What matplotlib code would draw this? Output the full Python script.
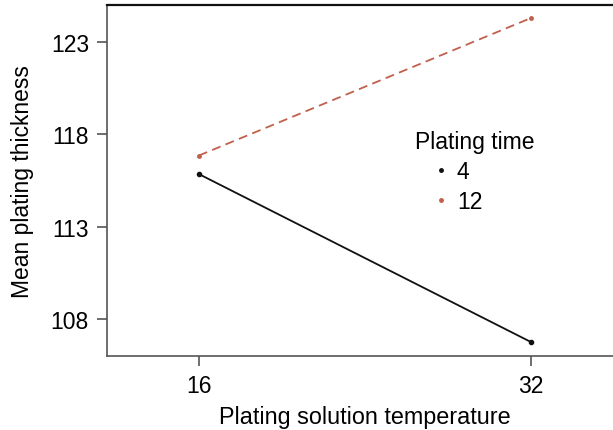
import matplotlib
matplotlib.use("Agg")
import matplotlib.pyplot as plt
from matplotlib.lines import Line2D

plt.rcParams['font.family'] = ['Liberation Sans', 'DejaVu Sans']

temperature = [16, 32]
time_labels = ["4", "12"]
thickness_4 = [115.85, 106.75]
thickness_12 = [116.85, 124.3]
yticks = [108, 113, 118, 123]
xticks = [16, 32]

W, H = 613, 431
fig = plt.figure(figsize=(W/100, H/100), dpi=100)
L, R, T, B = 107, 623, 6, 357
ax = fig.add_axes([L/W, (H-B)/H, (R-L)/W, (B-T)/H])

black = "#111111"
red = "#c0604c"
ax.plot(temperature, thickness_4, color=black, lw=1.3, marker='o', ms=3)
ax.plot(temperature, thickness_12, color=red, lw=1.3, ls=(0, (5, 3)), marker='o', ms=2.5)

ax.set_xlim(11.58, 36.42)
ax.set_ylim(106.0, 125.0)
ax.set_xticks(xticks)
ax.set_yticks(yticks)
ax.tick_params(labelsize=16.5, length=7, width=1.2, color="#555555")
ax.tick_params(axis='y', pad=6)
ax.tick_params(axis='x', pad=6)
for s in ['left', 'bottom', 'top']:
    ax.spines[s].set_color("#555555")
    ax.spines[s].set_linewidth(1.2)
ax.spines['top'].set_color("#111111")
ax.spines['top'].set_linewidth(1.6)
ax.spines['right'].set_visible(False)

ax.set_xlabel("Plating solution temperature", fontsize=16.8, labelpad=6)
ax.set_ylabel("Mean plating thickness", fontsize=16.5, labelpad=12)

aw, ah = R - L, B - T
ax.text((415-L)/aw, (B-143)/ah, "Plating time", transform=ax.transAxes,
        fontsize=16.5, ha='left', va='center')
handles = [Line2D([], [], ls='none', marker='o', ms=2.5, color=black),
           Line2D([], [], ls='none', marker='o', ms=2.5, color=red)]
leg = ax.legend(handles, time_labels, frameon=False,
                fontsize=16.5, loc='upper left', borderpad=0, borderaxespad=0,
                bbox_to_anchor=((434-L)/aw, (B-161)/ah), handlelength=0.6,
                handletextpad=0.4, labelspacing=0.3)

fig.savefig("out.png", dpi=100)
